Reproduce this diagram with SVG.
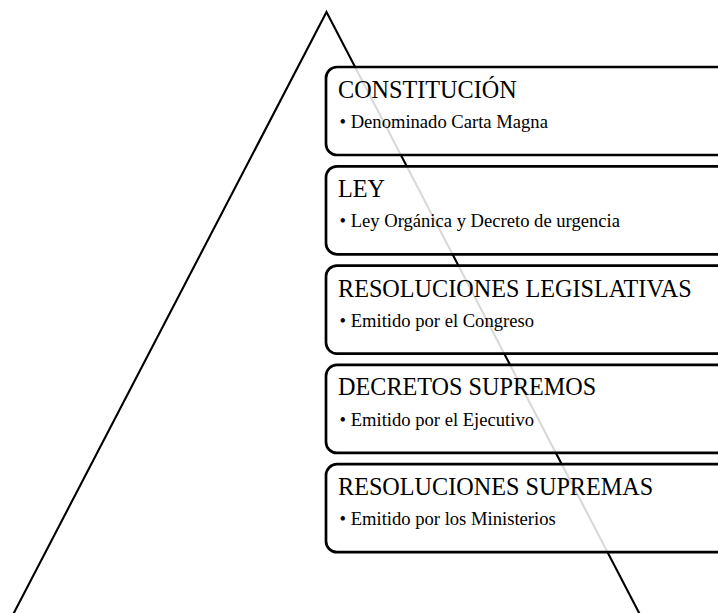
<svg xmlns="http://www.w3.org/2000/svg" width="718" height="613" viewBox="0 0 718 613">
<style>
.tri{fill:none;stroke:#000;stroke-width:2.1}
.box{fill:#fff;fill-opacity:0.85;stroke:#000;stroke-width:2.7}
.t{font-family:"Liberation Serif","Times New Roman",serif;font-size:24.2px;fill:#000}
.b{font-family:"Liberation Serif","Times New Roman",serif;font-size:18.6px;fill:#000}
</style>
<rect width="718" height="613" fill="#fff"/>
<g id="pyramid">
<polygon class="tri" points="326.5,12 5,630 648,630"/>
</g>
<g id="n1">
<rect class="box" x="326" y="67" width="420" height="88" rx="11"/>
<text class="t" x="338" y="97.5">CONSTITUCIÓN</text>
<text class="b" x="339.5" y="128">• Denominado Carta Magna</text>
</g>
<g id="n2">
<rect class="box" x="326" y="166.3" width="420" height="88" rx="11"/>
<text class="t" x="338" y="196.8">LEY</text>
<text class="b" x="339.5" y="227.3">• Ley Orgánica y Decreto de urgencia</text>
</g>
<g id="n3">
<rect class="box" x="326" y="265.6" width="420" height="88" rx="11"/>
<text class="t" x="338" y="296.6">RESOLUCIONES LEGISLATIVAS</text>
<text class="b" x="339.5" y="326.6">• Emitido por el Congreso</text>
</g>
<g id="n4">
<rect class="box" x="326" y="364.9" width="420" height="88" rx="11"/>
<text class="t" x="338" y="395.4">DECRETOS SUPREMOS</text>
<text class="b" x="339.5" y="425.9">• Emitido por el Ejecutivo</text>
</g>
<g id="n5">
<rect class="box" x="326" y="464.2" width="420" height="88" rx="11"/>
<text class="t" x="338" y="494.7">RESOLUCIONES SUPREMAS</text>
<text class="b" x="339.5" y="525.2">• Emitido por los Ministerios</text>
</g>
<g id="connectors"></g>
</svg>
